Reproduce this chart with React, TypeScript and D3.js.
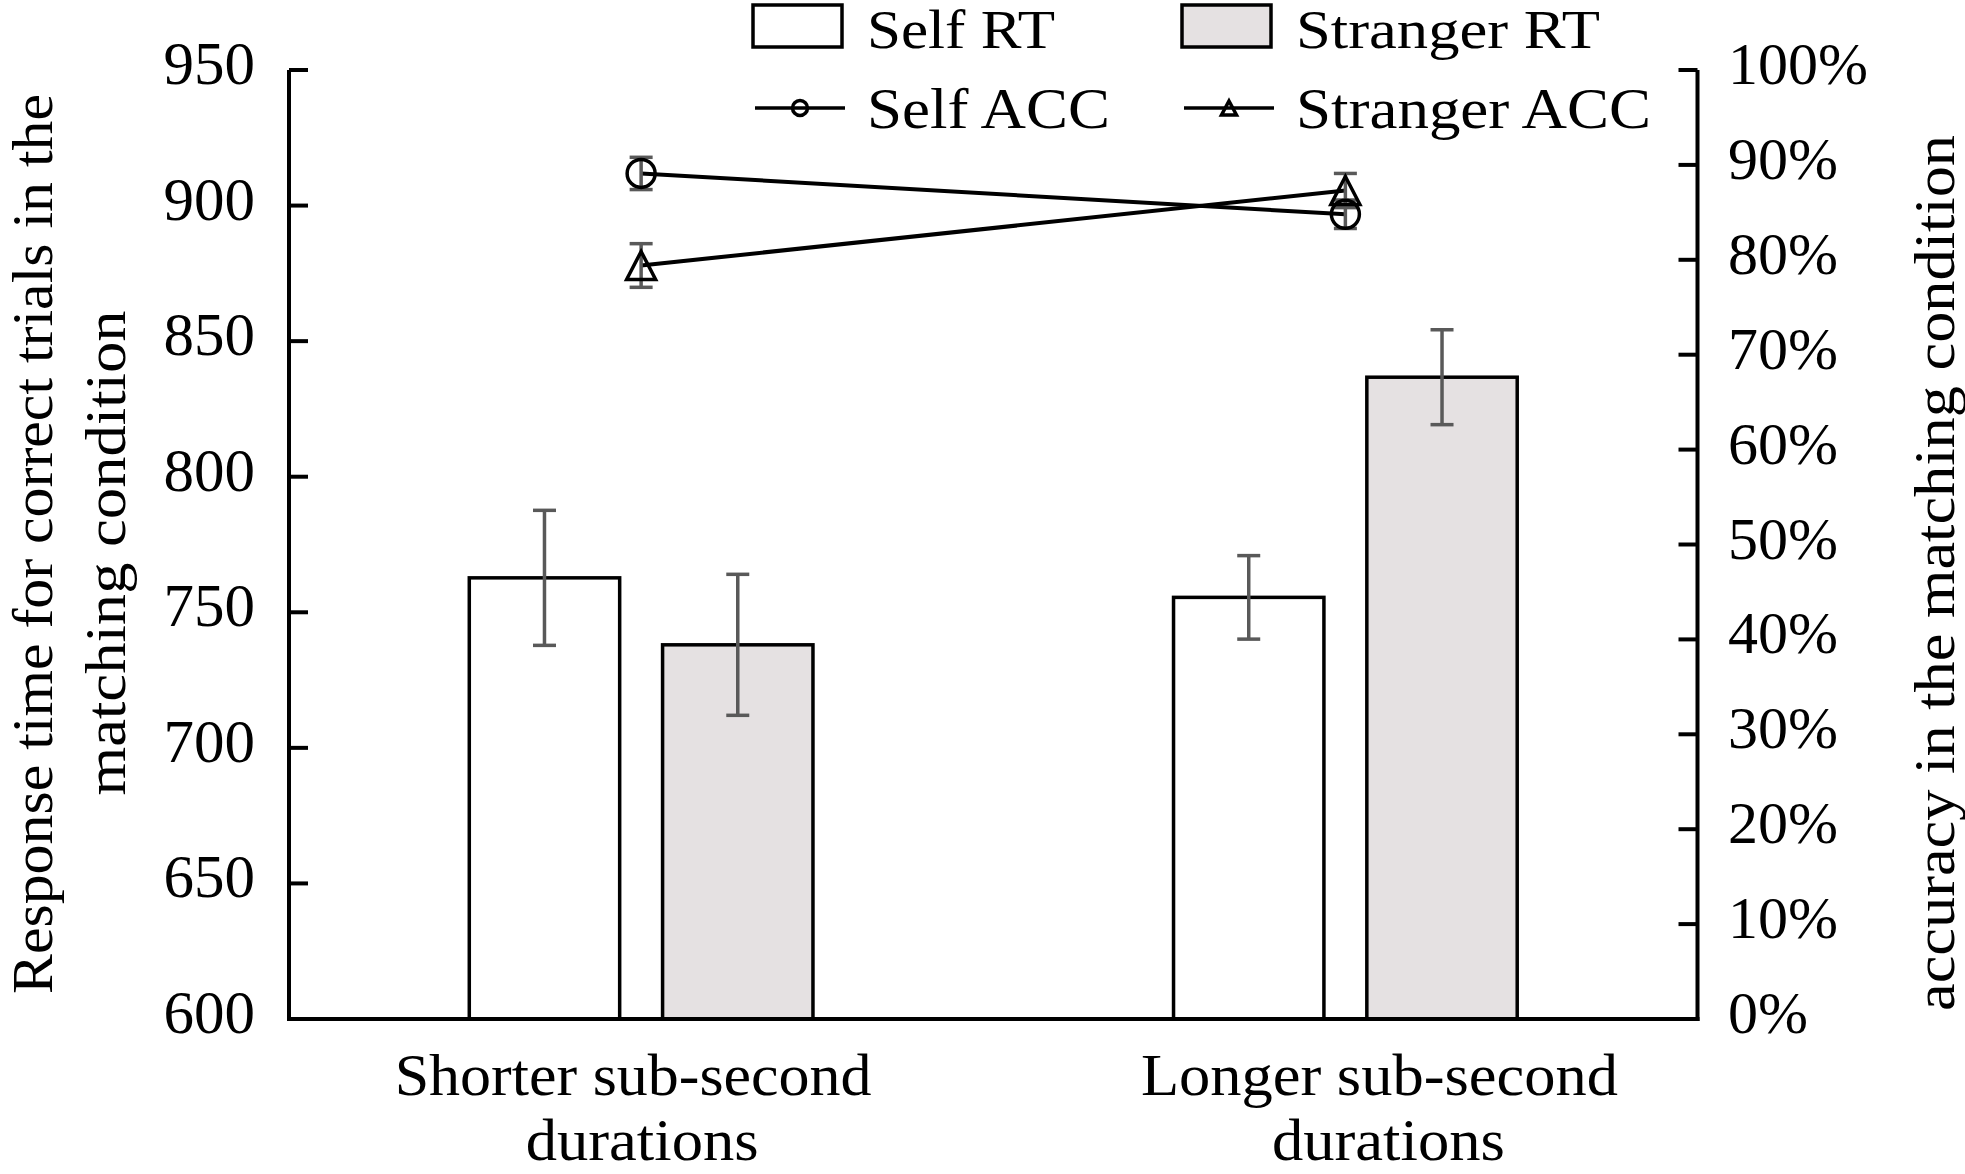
import React from "react";
import * as d3 from "d3";

// ---- data ----
const categoryLines: string[][] = [
  ["Shorter sub-second", "durations"],
  ["Longer sub-second", "durations"],
];
const categories = ["Shorter", "Longer"];
const rtSeries = ["Self RT", "Stranger RT"];
const selfRT = [762.7, 755.5];
const selfRTErr = [24.9, 15.4];
const strangerRT = [738.0, 836.7];
const strangerRTErr = [26.0, 17.5];
const selfACC = [0.891, 0.848];
const selfACCErr = [0.017, 0.015];
const strangerACC = [0.794, 0.873];
const strangerACCErr = [0.023, 0.018];
const rtTicks = [600, 650, 700, 750, 800, 850, 900, 950];
const accTicks = [0, 0.1, 0.2, 0.3, 0.4, 0.5, 0.6, 0.7, 0.8, 0.9, 1.0];

// ---- layout ----
const W = 1965;
const H = 1174;
const L = 289;
const R = 1697.5;
const T = 70;
const B = 1019;
const FONT = '"Liberation Serif", "Times New Roman", Times, serif';
const GRAY = "#595959";
const FILL2 = "#E5E1E2";
const labelShift = [1, 43];

export default function App() {
  const x0 = d3.scaleBand<string>().domain(categories).range([L, R]);
  const yL = d3.scaleLinear().domain([600, 950]).range([B, T]);
  const yR = d3.scaleLinear().domain([0, 1]).range([B, T]);
  const groupW = x0.bandwidth() * 0.488;
  const center = (c: string) => (x0(c) as number) + x0.bandwidth() / 2;
  const x1 = d3
    .scaleBand<string>()
    .domain(rtSeries)
    .range([0, groupW])
    .paddingInner(0.222);

  const rtData = [
    { s: rtSeries[0], vals: selfRT, errs: selfRTErr, fill: "#ffffff" },
    { s: rtSeries[1], vals: strangerRT, errs: strangerRTErr, fill: FILL2 },
  ];
  const accData = [
    { s: "Self ACC", vals: selfACC, errs: selfACCErr, shape: "circle" },
    { s: "Stranger ACC", vals: strangerACC, errs: strangerACCErr, shape: "triangle" },
  ];

  const line = d3
    .line<number>()
    .x((_, i) => center(categories[i]))
    .y((v) => yR(v));

  const tri = (cx: number, cy: number, hw: number, hh: number) =>
    `M${cx},${cy - hh}L${cx + hw},${cy + hh}L${cx - hw},${cy + hh}Z`;

  const capW = 11.5;

  const errBar = (cx: number, y1: number, y2: number, key: string) => (
    <g key={key} stroke={GRAY} strokeWidth={3.5}>
      <line x1={cx} x2={cx} y1={y1} y2={y2} />
      <line x1={cx - capW} x2={cx + capW} y1={y1} y2={y1} />
      <line x1={cx - capW} x2={cx + capW} y1={y2} y2={y2} />
    </g>
  );

  const marker = (shape: string, cx: number, cy: number, big: boolean, key: string) =>
    shape === "circle" ? (
      <ellipse
        key={key}
        cx={cx}
        cy={cy}
        rx={big ? 14 : 7.5}
        ry={big ? 14 : 7.5}
        fill="none"
        stroke="#000"
        strokeWidth={3.5}
      />
    ) : (
      <path
        key={key}
        d={big ? tri(cx, cy, 14.5, 14) : tri(cx, cy, 7.5, 7)}
        fill="none"
        stroke="#000"
        strokeWidth={3.5}
        strokeLinejoin="miter"
      />
    );

  // legend
  const legX = [753, 1182];
  const legTextW1 = [188, 304];
  const legTextW2 = [243, 355];

  return (
    <svg
      width={W}
      height={H}
      viewBox={`0 0 ${W} ${H}`}
      style={{ position: "absolute", left: 0, top: 0, background: "#fff", fontFamily: FONT }}
    >
      <rect x={0} y={0} width={W} height={H} fill="#fff" />

      {/* bars */}
      {rtData.map((d) =>
        categories.map((c, i) => {
          const bx = center(c) - groupW / 2 + (x1(d.s) as number);
          const by = yL(d.vals[i]);
          return (
            <rect
              key={d.s + c}
              x={bx}
              y={by}
              width={x1.bandwidth()}
              height={B - by}
              fill={d.fill}
              stroke="#000"
              strokeWidth={3.5}
            />
          );
        })
      )}
      {rtData.map((d) =>
        categories.map((c, i) => {
          const cx = center(c) - groupW / 2 + (x1(d.s) as number) + x1.bandwidth() / 2;
          return errBar(cx, yL(d.vals[i] + d.errs[i]), yL(d.vals[i] - d.errs[i]), "e" + d.s + c);
        })
      )}

      {/* axes */}
      <g stroke="#000" strokeWidth={4} fill="none">
        <line x1={L} x2={L} y1={T} y2={B + 2} />
        <line x1={R} x2={R} y1={T} y2={B + 2} />
        <line x1={L - 2} x2={R + 2} y1={B} y2={B} />
        {rtTicks.map((t) => (
          <line key={"lt" + t} x1={L} x2={L + 19} y1={yL(t)} y2={yL(t)} />
        ))}
        {accTicks.map((t) => (
          <line key={"rt" + t} x1={R - 19} x2={R} y1={yR(t)} y2={yR(t)} />
        ))}
      </g>
      {rtTicks.map((t) => (
        <text key={"ltl" + t} x={255} y={yL(t) + 14} fontSize={61} textAnchor="end" fill="#000">
          {t}
        </text>
      ))}
      {accTicks.map((t) => (
        <text key={"rtl" + t} x={1728} y={yR(t) + 14} fontSize={60} textAnchor="start" fill="#000">
          {d3.format(".0%")(t)}
        </text>
      ))}

      {/* ACC lines */}
      {accData.map((d) => (
        <path key={"l" + d.s} d={line(d.vals) as string} fill="none" stroke="#000" strokeWidth={4} />
      ))}
      {accData.map((d) =>
        categories.map((c, i) =>
          errBar(center(c), yR(d.vals[i] + d.errs[i]), yR(d.vals[i] - d.errs[i]), "ae" + d.s + c)
        )
      )}
      {accData.map((d) =>
        categories.map((c, i) => marker(d.shape, center(c), yR(d.vals[i]), true, "m" + d.s + c))
      )}

      {/* category labels */}
      {categories.map((c, i) => {
        const cx = center(c) + labelShift[i];
        return (
          <g key={"cl" + c} fontSize={60} fill="#000" textAnchor="middle">
            <text x={cx - 9} y={1095} textLength={477} lengthAdjust="spacingAndGlyphs">
              {categoryLines[i][0]}
            </text>
            <text x={cx} y={1160} textLength={233} lengthAdjust="spacingAndGlyphs">
              {categoryLines[i][1]}
            </text>
          </g>
        );
      })}

      {/* axis titles */}
      <g fill="#000" textAnchor="middle">
        <text
          transform={`translate(52,544) rotate(-90)`}
          fontSize={58}
          textLength={900}
          lengthAdjust="spacingAndGlyphs"
        >
          Response time for correct trials in the
        </text>
        <text
          transform={`translate(125,553) rotate(-90)`}
          fontSize={58}
          textLength={485}
          lengthAdjust="spacingAndGlyphs"
        >
          matching condition
        </text>
        <text
          transform={`translate(1954,573) rotate(-90)`}
          fontSize={56}
          textLength={876}
          lengthAdjust="spacingAndGlyphs"
        >
          accuracy in the matching condition
        </text>
      </g>

      {/* legend */}
      {rtData.map((d, i) => (
        <g key={"lg" + d.s}>
          <rect x={legX[i]} y={5} width={89} height={42} fill={d.fill} stroke="#000" strokeWidth={3.5} />
          <text
            x={legX[i] + 114}
            y={48}
            fontSize={54}
            textLength={legTextW1[i]}
            lengthAdjust="spacingAndGlyphs"
            fill="#000"
          >
            {d.s}
          </text>
        </g>
      ))}
      {accData.map((d, i) => (
        <g key={"lga" + d.s}>
          <line x1={legX[i] + 2} x2={legX[i] + 92} y1={108} y2={108} stroke="#000" strokeWidth={3.5} />
          {marker(d.shape, legX[i] + 47, 108, false, "lm" + d.s)}
          <text
            x={legX[i] + 114}
            y={128}
            fontSize={58}
            textLength={legTextW2[i]}
            lengthAdjust="spacingAndGlyphs"
            fill="#000"
          >
            {d.s}
          </text>
        </g>
      ))}
    </svg>
  );
}
